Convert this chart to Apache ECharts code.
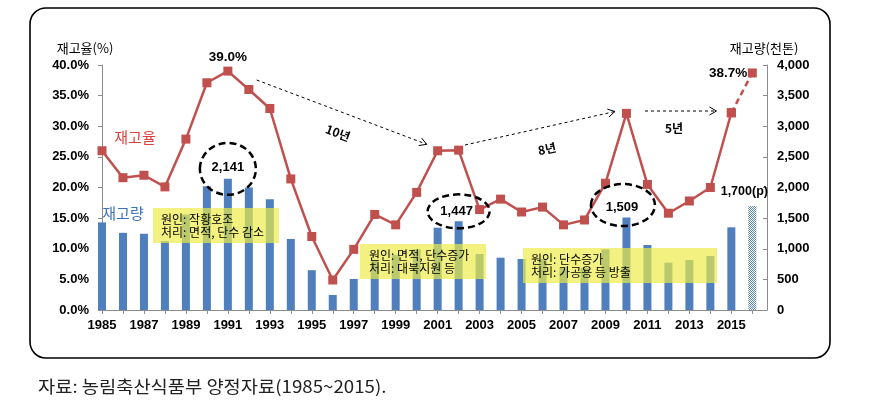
<!DOCTYPE html>
<html><head><meta charset="utf-8">
<script src="https://cdn.jsdelivr.net/npm/echarts@6/dist/echarts.min.js"></script>
<style>html,body{margin:0;padding:0;background:#fff;}#c{width:880px;height:417px;}</style>
</head><body><div id="c"></div>
<script>
// ---- data ----
const years = [1985,1986,1987,1988,1989,1990,1991,1992,1993,1994,1995,1996,1997,1998,1999,2000,
               2001,2002,2003,2004,2005,2006,2007,2008,2009,2010,2011,2012,2013,2014,2015,2016];
const stockRatio = [26.0,21.6,22.0,20.1,27.9,37.1,39.0,36.0,32.9,21.4,12.0,4.9,9.9,15.6,13.9,19.2,
                    26.0,26.1,16.4,18.1,16.0,16.8,13.9,14.7,20.7,32.1,20.5,15.8,17.8,20.0,32.2,38.7];
const stockAmount = [1430,1260,1245,1125,1560,2020,2141,2000,1810,1160,650,245,506,820,900,990,
                     1344,1447,914,854,833,830,700,690,991,1509,1061,773,816,882,1350,1700];
const projectedYear = 2016;
const xLabelYears = [1985,1987,1989,1991,1993,1995,1997,1999,2001,2003,2005,2007,2009,2011,2013,2015];
const calloutYears = [1991, 2002, 2010];

// ---- chart ----
const chart = echarts.init(document.getElementById('c'), null, {renderer:'canvas'});
const FONT = '"Liberation Sans","Noto Sans CJK KR",sans-serif';
const KFONT = '"Noto Sans CJK KR","Liberation Sans",sans-serif';

// hatched pattern for projected bar
const pc = document.createElement('canvas'); pc.width = 2; pc.height = 2;
const pctx = pc.getContext('2d');
pctx.fillStyle = '#ffffff'; pctx.fillRect(0,0,2,2);
pctx.fillStyle = '#5b86c4'; pctx.fillRect(0,0,1,1); pctx.fillRect(1,1,1,1);

const barData = years.map((y,i) => y === projectedYear
  ? {value:[y, stockAmount[i]], itemStyle:{color:{image:pc, repeat:'repeat'}}}
  : [y, stockAmount[i]]);
const solidLine = years.map((y,i)=>[y, stockRatio[i]]).filter(d => d[0] < projectedYear);
const dashLine = years.map((y,i)=>[y, stockRatio[i]]).filter(d => d[0] >= projectedYear - 1);

const labelStyle = {color:'#000', fontFamily:FONT, fontWeight:'bold', fontSize:13};

chart.setOption({
  animation:false,
  grid:{left:102, right:113, top:65, bottom:107},
  xAxis:{
    type:'value', min:1985, max:2016.7, interval:1,
    splitLine:{show:false},
    axisLine:{show:true, lineStyle:{color:'#8c8c8c'}},
    axisTick:{show:true, length:4, lineStyle:{color:'#8c8c8c'}},
    axisLabel:Object.assign({margin:9, showMaxLabel:false, showMinLabel:true,
      formatter:v => xLabelYears.indexOf(v) >= 0 ? String(v) : ''}, labelStyle)
  },
  yAxis:[
    {type:'value', min:0, max:40, interval:5, position:'left',
     splitLine:{show:false},
     axisLine:{show:true, lineStyle:{color:'#8c8c8c'}},
     axisTick:{show:true, length:4, lineStyle:{color:'#8c8c8c'}},
     axisLabel:Object.assign({margin:13, formatter:v => v.toFixed(1)+'%'}, labelStyle)},
    {type:'value', min:0, max:4000, interval:500, position:'right',
     splitLine:{show:false},
     axisLine:{show:true, lineStyle:{color:'#8c8c8c'}},
     axisTick:{show:true, inside:true, length:4, lineStyle:{color:'#8c8c8c'}},
     axisLabel:Object.assign({margin:10, formatter:v => v.toLocaleString('en-US')}, labelStyle)}
  ],
  series:[
    {type:'bar', yAxisIndex:1, data:barData, barWidth:8, clip:true,
     itemStyle:{color:'#4f7fbd'}, z:2},
    {type:'line', yAxisIndex:0, data:solidLine, symbol:'rect', symbolSize:9,
     lineStyle:{color:'#c0504d', width:2.5}, itemStyle:{color:'#c0504d'}, z:5},
    {type:'line', yAxisIndex:0, data:dashLine, symbol:'rect', symbolSize:9,
     lineStyle:{color:'#c0504d', width:2.5, type:[6,4]}, itemStyle:{color:'#c0504d'}, z:5}
  ]
});

function px(year, v, yIdx){ return chart.convertToPixel({xAxisIndex:0, yAxisIndex:yIdx}, [year, v]); }
function amt(y){ return stockAmount[years.indexOf(y)]; }
function rat(y){ return stockRatio[years.indexOf(y)]; }

const g = [];
const Z = 100;
// outer rounded frame
g.push({type:'rect', z:Z, silent:true, shape:{x:30,y:8,width:800,height:350,r:16},
  style:{fill:null, stroke:'#000', lineWidth:1.6}});
// axis titles
g.push({type:'text', z:Z, style:{text:'재고율(%)', x:85, y:48, align:'center', verticalAlign:'middle', font:'13px '+KFONT, fill:'#000'}});
g.push({type:'text', z:Z, style:{text:'재고량(천톤)', x:764, y:48, align:'center', verticalAlign:'middle', font:'13px '+KFONT, fill:'#000'}});
// series name labels
g.push({type:'text', z:Z, style:{text:'재고율', x:135, y:137, align:'center', verticalAlign:'middle', font:'15px '+KFONT, fill:'#e0403c'}});
g.push({type:'text', z:Z, style:{text:'재고량', x:123, y:213, align:'center', verticalAlign:'middle', font:'15px '+KFONT, fill:'#3a72c0'}});

// yellow boxes
const boxes = [
  {x:153, y:208, w:126, h:35, lines:['원인: 작황호조','처리: 면적, 단수 감소'], tx:161},
  {x:360, y:244, w:126, h:35, lines:['원인: 면적, 단수증가','처리: 대북지원 등'], tx:369},
  {x:523, y:248, w:194, h:35, lines:['원인: 단수증가','처리: 가공용 등 방출'], tx:531}
];
boxes.forEach(b => {
  g.push({type:'rect', z:Z, shape:{x:b.x, y:b.y, width:b.w, height:b.h}, style:{fill:'rgba(238,236,70,0.68)'}});
  b.lines.forEach((t,k) => g.push({type:'text', z:Z+1, style:{text:t, x:b.tx, y:b.y+11+k*13.5, align:'left', verticalAlign:'middle', font:'12px '+KFONT, fill:'#000'}}));
});

// callout ellipses + values
const calloutGeom = {1991:{dx:0, dy:-10, rx:28, ry:26, lx:0, ly:-11.5},
                     2002:{dx:0, dy:-10, rx:31, ry:17, lx:-2, ly:-10},
                     2010:{dx:-3.5, dy:-12.5, rx:32, ry:21, lx:-4.5, ly:-10}};
calloutYears.forEach(y => {
  const p = px(y, amt(y), 1); const c = calloutGeom[y];
  g.push({type:'ellipse', z:Z, shape:{cx:p[0]+c.dx, cy:p[1]+c.dy, rx:c.rx, ry:c.ry},
    style:{fill:null, stroke:'#000', lineWidth:2.5, lineDash:[7,4]}});
  g.push({type:'text', z:Z+1, style:{text:amt(y).toLocaleString('en-US'), x:p[0]+c.lx, y:p[1]+c.ly, align:'center', verticalAlign:'middle', font:'bold 13px '+FONT, fill:'#000'}});
});
// projected bar label
{ const p = px(projectedYear, amt(projectedYear), 1);
  g.push({type:'text', z:Z+1, style:{text:amt(projectedYear).toLocaleString('en-US')+'(p)', x:p[0]-8, y:p[1]-14.5, align:'center', verticalAlign:'middle', font:'bold 12.5px '+FONT, fill:'#000'}}); }
// ratio labels
{ const p = px(1991, rat(1991), 0);
  g.push({type:'text', z:Z+1, style:{text:rat(1991).toFixed(1)+'%', x:p[0], y:p[1]-13.5, align:'center', verticalAlign:'middle', font:'bold 13.5px '+FONT, fill:'#000'}});
  const q = px(projectedYear, rat(projectedYear), 0);
  g.push({type:'text', z:Z+1, style:{text:rat(projectedYear).toFixed(1)+'%', x:q[0]-5, y:q[1], align:'right', verticalAlign:'middle', font:'bold 13.5px '+FONT, fill:'#000'}}); }

// dashed arrows
function arrow(x1,y1,x2,y2){
  g.push({type:'line', z:Z, shape:{x1,y1,x2,y2}, style:{stroke:'#000', lineWidth:1, lineDash:[3,3]}});
  const L = Math.hypot(x2-x1,y2-y1), ux=(x2-x1)/L, uy=(y2-y1)/L, nx=-uy, ny=ux;
  g.push({type:'polyline', z:Z, shape:{points:[[x2-7*ux+4*nx, y2-7*uy+4*ny],[x2,y2],[x2-7*ux-4*nx, y2-7*uy-4*ny]]},
    style:{fill:null, stroke:'#000', lineWidth:1}});
}
arrow(256.7,80,426.7,144.3);
arrow(465,145,615,111.5);
arrow(645,111,716.5,111);
g.push({type:'text', z:Z, x:338, y:133, rotation:-0.36, style:{text:'10년', align:'center', verticalAlign:'middle', font:'bold 12px '+KFONT, fill:'#000'}});
g.push({type:'text', z:Z, x:547, y:149, rotation:0.2, style:{text:'8년', align:'center', verticalAlign:'middle', font:'bold 12px '+KFONT, fill:'#000'}});
g.push({type:'text', z:Z, x:674, y:128, style:{text:'5년', align:'center', verticalAlign:'middle', font:'bold 12px '+KFONT, fill:'#000'}});

// source
g.push({type:'text', z:Z, x:38, y:387, scaleX:1.1, style:{text:'자료: 농림축산식품부 양정자료(1985~2015).', x:0, y:0, align:'left', verticalAlign:'middle', font:'17px '+KFONT, fill:'#222'}});

chart.setOption({graphic:g});
</script>
</body></html>
